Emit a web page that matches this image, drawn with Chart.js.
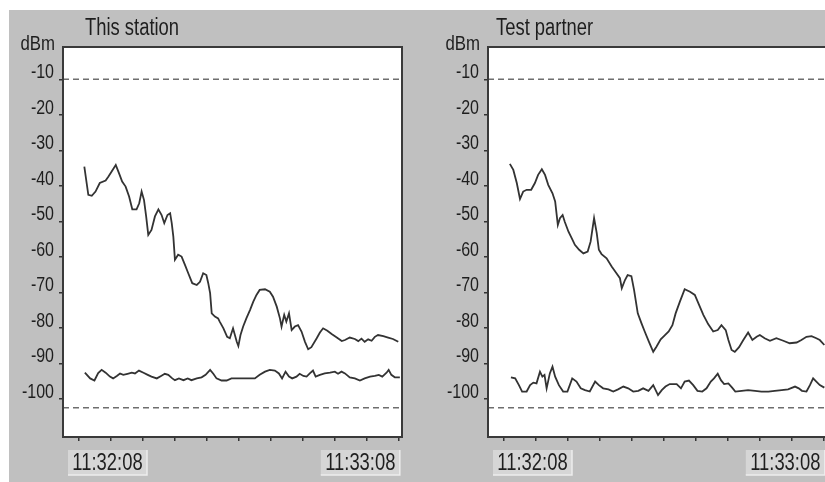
<!DOCTYPE html>
<html>
<head>
<meta charset="utf-8">
<script src="https://cdn.jsdelivr.net/npm/chart.js@4/dist/chart.umd.min.js"></script>
<style>
  html, body { margin:0; padding:0; background:#ffffff; width:825px; height:482px; overflow:hidden; }
  #bg { position:absolute; left:9px; top:10px; right:0; bottom:0; background:#c0c0c0; }
  canvas { position:absolute; top:0; }
</style>
</head>
<body>
<div id="bg"></div>
<canvas id="c1" width="425" height="482" style="left:0px"></canvas>
<canvas id="c2" width="425" height="482" style="left:425px"></canvas>
<script>
// ---------- data ----------
const chartTitles = ['This station', 'Test partner'];
const unitLabel = 'dBm';
const timeLabels = ['11:32:08', '11:33:08'];          // labels at first and last x tick
const xTickValues = [0, 6, 12, 18, 24, 30, 36, 42, 48, 54, 60];   // seconds since 11:32:08
const yTickValues = [-10, -20, -30, -40, -50, -60, -70, -80, -90, -100];
const upperLimit = -10;
const lowerLimit = -102.5;

// This station - received signal
const stationSignalT = [
  1.0, 1.75, 2.4, 3.1, 3.9, 5.0, 5.5, 6.1, 6.9, 7.5,
  8.1, 8.75, 9.4, 10.0, 10.8, 11.3, 11.75, 12.2, 12.6, 13.0,
  13.6, 14.25, 14.9, 15.5, 16.0, 16.6, 17.1, 17.4, 17.7, 18.0,
  18.6, 19.25, 19.9, 20.5, 21.25, 22.1, 22.7, 23.3, 23.9, 24.25,
  24.6, 24.9, 25.5, 26.1, 26.4, 27.1, 27.8, 28.3, 28.9, 29.6,
  29.9, 30.3, 30.8, 31.4, 32.1, 32.7, 33.3, 33.9, 34.9, 35.8,
  36.4, 37.1, 37.7, 38.0, 38.5, 38.9, 39.4, 39.9, 40.5, 41.1,
  41.75, 42.4, 43.0, 43.6, 44.6, 45.2, 45.8, 46.6, 47.4, 48.3,
  49.3, 49.9, 50.8, 51.75, 52.4, 53.0, 53.6, 54.25, 54.9, 55.5,
  56.1, 57.1, 58.0, 58.9, 59.9
];
const stationSignalV = [
  -34.6, -42.5, -42.8, -41.6, -39.2, -38.5, -37.4, -36.0, -34.1, -36.4,
  -38.8, -40.2, -43.0, -46.6, -46.6, -44.9, -41.6, -44.0, -48.6, -53.8,
  -52.4, -48.6, -46.6, -48.2, -50.5, -48.2, -47.7, -50.5, -54.3, -60.8,
  -59.4, -59.9, -62.3, -64.6, -67.4, -67.9, -67.0, -64.6, -65.1, -67.4,
  -70.2, -75.9, -76.8, -77.3, -78.2, -80.1, -82.5, -82.9, -80.1, -83.9,
  -85.1, -82.0, -79.6, -77.3, -74.9, -72.6, -70.7, -69.3, -69.1, -69.8,
  -71.2, -74.0, -77.3, -79.6, -76.3, -78.2, -75.9, -80.6, -79.6, -79.2,
  -81.0, -83.9, -86.0, -85.4, -82.9, -81.3, -80.1, -80.8, -81.7, -82.6,
  -83.7, -83.4, -82.7, -83.1, -83.7, -83.0, -83.9, -83.2, -83.6, -82.5,
  -82.0, -82.3, -82.7, -83.1, -83.9
];
// This station - noise floor
const stationNoiseT = [
  1.1, 2.1, 2.9, 3.6, 4.25, 5.0, 5.8, 6.4, 7.1, 7.7,
  8.3, 9.1, 9.9, 10.5, 11.25, 12.1, 12.9, 13.6, 14.6, 15.4,
  16.1, 16.75, 17.5, 18.0, 18.75, 19.6, 20.4, 21.1, 22.1, 23.0,
  23.75, 24.6, 25.2, 25.8, 26.75, 27.7, 28.6, 30.5, 33.0, 33.9,
  34.9, 35.8, 36.75, 37.5, 38.1, 38.75, 39.4, 40.0, 40.8, 41.4,
  42.1, 42.7, 43.3, 43.9, 44.4, 45.2, 46.1, 47.1, 48.0, 48.6,
  49.25, 49.9, 50.8, 51.75, 52.7, 53.6, 54.6, 55.5, 56.25, 56.9,
  57.7, 58.1, 58.6, 59.25, 60.2
];
const stationNoiseV = [
  -92.6, -94.2, -94.8, -92.7, -91.8, -92.6, -93.7, -94.2, -93.5, -92.8,
  -93.2, -92.9, -92.6, -92.8, -92.0, -92.6, -93.2, -93.7, -94.2, -93.5,
  -92.9, -93.2, -94.2, -94.7, -94.2, -94.7, -94.2, -94.7, -94.2, -93.9,
  -93.2, -91.8, -92.9, -94.2, -94.8, -94.8, -94.2, -94.2, -94.2, -93.2,
  -92.3, -91.8, -92.0, -92.8, -94.2, -92.3, -93.7, -94.2, -93.7, -92.9,
  -93.5, -93.7, -92.8, -92.0, -93.7, -93.2, -92.8, -92.6, -92.3, -92.9,
  -92.3, -92.8, -93.9, -94.2, -94.8, -94.2, -93.7, -93.5, -93.2, -93.7,
  -92.6, -91.8, -93.2, -93.9, -93.9
];
// Test partner - received signal
const partnerSignalT = [
  1.1, 1.75, 2.4, 3.0, 3.6, 4.25, 5.1, 5.8, 6.4, 7.1,
  7.7, 8.3, 9.1, 9.6, 10.1, 10.5, 11.0, 11.4, 12.1, 12.7,
  13.3, 14.1, 14.9, 15.7, 16.25, 16.9, 17.4, 17.8, 18.3, 19.25,
  20.2, 21.1, 21.75, 22.1, 22.7, 23.2, 23.9, 24.4, 25.1, 25.8,
  26.4, 27.2, 28.0, 28.6, 29.4, 30.2, 30.9, 31.6, 32.2, 33.0,
  33.9, 34.9, 35.8, 36.6, 37.4, 38.3, 39.25, 40.1, 40.8, 41.6,
  42.1, 42.7, 43.3, 44.1, 44.9, 45.8, 46.6, 47.4, 48.0, 48.9,
  49.9, 51.1, 52.4, 53.6, 54.9, 55.8, 56.75, 57.7, 58.6, 59.25,
  60.1
];
const partnerSignalV = [
  -33.8, -35.5, -39.2, -43.7, -41.6, -41.1, -41.1, -39.2, -36.9, -35.3,
  -36.9, -39.7, -42.1, -44.4, -51.0, -49.1, -48.2, -50.1, -52.9, -54.7,
  -56.6, -58.0, -59.0, -58.5, -55.7, -49.1, -53.3, -58.0, -59.2, -60.4,
  -62.7, -64.6, -66.0, -68.8, -66.5, -65.1, -65.4, -69.3, -75.9, -78.7,
  -81.0, -83.9, -86.7, -85.3, -83.2, -82.0, -81.0, -79.2, -75.9, -72.6,
  -69.1, -69.8, -70.7, -73.5, -76.3, -78.9, -81.0, -80.6, -79.2, -80.6,
  -83.4, -86.2, -86.7, -85.4, -83.4, -81.3, -83.4, -82.5, -82.0, -82.9,
  -83.6, -82.9, -83.6, -84.3, -84.1, -83.4, -82.5, -82.3, -82.9, -83.4,
  -84.8
];
// Test partner - noise floor
const partnerNoiseT = [
  1.3, 2.1, 2.8, 3.4, 4.25, 4.9, 5.5, 6.1, 6.75, 7.2,
  7.6, 8.0, 8.6, 9.1, 9.6, 10.3, 11.1, 11.9, 12.8, 13.6,
  14.4, 15.2, 16.1, 17.1, 17.8, 18.6, 19.6, 20.5, 21.4, 22.4,
  23.3, 24.25, 25.2, 26.1, 27.1, 28.0, 28.9, 29.6, 30.3, 31.1,
  32.4, 33.2, 33.9, 34.7, 35.5, 36.3, 37.2, 38.0, 38.8, 39.4,
  40.1, 40.7, 41.3, 42.1, 42.8, 43.4, 44.6, 45.8, 47.1, 48.3,
  49.6, 50.8, 52.1, 53.3, 54.6, 55.3, 55.9, 56.75, 57.4, 58.0,
  58.6, 59.25, 60.1
];
const partnerNoiseV = [
  -93.9, -94.2, -96.1, -97.9, -97.9, -96.1, -95.4, -95.6, -92.3, -93.7,
  -93.2, -97.0, -92.8, -90.9, -93.7, -96.1, -97.9, -97.9, -94.2, -95.1,
  -97.0, -97.5, -97.9, -95.1, -96.1, -97.0, -97.3, -97.9, -97.3, -96.5,
  -97.0, -97.9, -97.7, -97.0, -97.7, -96.1, -98.9, -97.5, -96.5, -95.8,
  -95.8, -97.0, -95.1, -94.8, -96.1, -97.7, -97.9, -97.0, -95.1, -94.2,
  -92.9, -94.7, -95.8, -95.6, -96.8, -97.9, -97.7, -97.5, -97.7, -97.9,
  -97.9, -97.7, -97.5, -97.3, -96.5, -97.0, -97.7, -97.9, -96.1, -94.2,
  -95.1, -96.1, -96.8
];

// ---------- rendering ----------
const FONT = "'Liberation Sans', Arial, sans-serif";
const NARROW = 0.8;   // horizontal squeeze (Arial -> Arial Narrow look)
const X_MIN = -3, X_MAX = 60.6, Y_MIN = -110.7, Y_MAX = -0.9;

function zip(ts, vs) { return ts.map((t, i) => ({ x: t, y: vs[i] })); }
function limitLine(v) { return [{ x: X_MIN, y: v }, { x: X_MAX, y: v }]; }

function narrowText(ctx, text, x, y, align, size) {
  ctx.save();
  ctx.translate(x, y);
  ctx.scale(NARROW, 1);
  ctx.font = size + 'px ' + FONT;
  ctx.textAlign = align;
  ctx.textBaseline = 'alphabetic';
  ctx.fillText(text, 0, 0);
  ctx.restore();
}

const framePlugin = {
  id: 'frame',
  beforeDraw(chart) {
    const { ctx, chartArea: a } = chart;
    ctx.save();
    ctx.fillStyle = '#ffffff';
    ctx.fillRect(a.left, a.top, a.right - a.left, a.bottom - a.top);
    ctx.restore();
  },
  afterDatasetsDraw(chart) {
    const { ctx, chartArea: a } = chart;
    ctx.save();
    ctx.strokeStyle = '#3a3a3a';
    ctx.lineWidth = 2;
    ctx.strokeRect(a.left, a.top, a.right - a.left, a.bottom - a.top);
    ctx.restore();
  },
  afterDraw(chart) {
    const { ctx, chartArea: a } = chart;
    const o = chart.options.plugins.frame;
    const xs = chart.scales.x, ys = chart.scales.y;
    ctx.save();
    ctx.fillStyle = '#1e1e1e';
    // title and unit
    narrowText(ctx, o.title, o.titleX, 35, 'left', 23);
    narrowText(ctx, unitLabel, a.left - 8, 50, 'right', 21);
    // y tick labels (positioned by the y scale)
    ys.ticks.forEach(t => {
      narrowText(ctx, String(t.value), a.left - 9, ys.getPixelForValue(t.value) - 1, 'right', 20);
    });
    // time labels in boxes (positioned by the x scale)
    const bw = 79, bh = 25, by = 450;
    const boxes = [
      { x: xs.getPixelForValue(xTickValues[0]) - 11, text: timeLabels[0] },
      { x: xs.getPixelForValue(xTickValues[xTickValues.length - 1]) + 1 - bw, text: timeLabels[1] }
    ];
    boxes.forEach(b => {
      ctx.fillStyle = '#d6d6d6';
      ctx.fillRect(b.x, by, bw, bh);
      ctx.strokeStyle = '#ededed';
      ctx.lineWidth = 1.5;
      ctx.beginPath();
      ctx.moveTo(b.x, by + bh); ctx.lineTo(b.x + bw, by + bh); ctx.lineTo(b.x + bw, by);
      ctx.stroke();
      ctx.fillStyle = '#1e1e1e';
      narrowText(ctx, b.text, b.x + bw / 2, by + 20, 'center', 23);
    });
    ctx.restore();
  }
};

function makeChart(id, title, titleX, signalT, signalV, noiseT, noiseV) {
  const lineStyle = { borderColor: '#333333', borderWidth: 1.8, pointRadius: 0, tension: 0, fill: false };
  const dashStyle = { borderColor: '#6e6e6e', borderWidth: 1.5, borderDash: [6, 4], pointRadius: 0, fill: false };
  return new Chart(document.getElementById(id), {
    type: 'line',
    data: {
      datasets: [
        Object.assign({ data: limitLine(upperLimit) }, dashStyle),
        Object.assign({ data: limitLine(lowerLimit) }, dashStyle),
        Object.assign({ data: zip(signalT, signalV) }, lineStyle),
        Object.assign({ data: zip(noiseT, noiseV) }, lineStyle)
      ]
    },
    plugins: [framePlugin],
    options: {
      responsive: false,
      animation: false,
      devicePixelRatio: 1,
      layout: { padding: { top: 47, right: 23, left: 0, bottom: 0 } },
      plugins: {
        legend: { display: false },
        tooltip: { enabled: false },
        frame: { title: title, titleX: titleX }
      },
      scales: {
        x: {
          type: 'linear', min: X_MIN, max: X_MAX,
          afterBuildTicks: s => { s.ticks = xTickValues.map(v => ({ value: v })); },
          afterFit: s => { s.height = 45; },
          ticks: { display: false, autoSkip: false, maxRotation: 0 },
          grid: { drawOnChartArea: false, drawTicks: true, tickLength: 4, color: '#333333', lineWidth: 1.5 },
          border: { display: false }
        },
        y: {
          type: 'linear', min: Y_MIN, max: Y_MAX,
          afterBuildTicks: s => { s.ticks = yTickValues.map(v => ({ value: v })); },
          afterFit: s => { s.width = 63; },
          ticks: { display: false, autoSkip: false },
          grid: { drawOnChartArea: false, drawTicks: true, tickLength: 4, color: '#333333', lineWidth: 1.5 },
          border: { display: false }
        }
      }
    }
  });
}

makeChart('c1', chartTitles[0], 85, stationSignalT, stationSignalV, stationNoiseT, stationNoiseV);
makeChart('c2', chartTitles[1], 71, partnerSignalT, partnerSignalV, partnerNoiseT, partnerNoiseV);
</script>
</body>
</html>
